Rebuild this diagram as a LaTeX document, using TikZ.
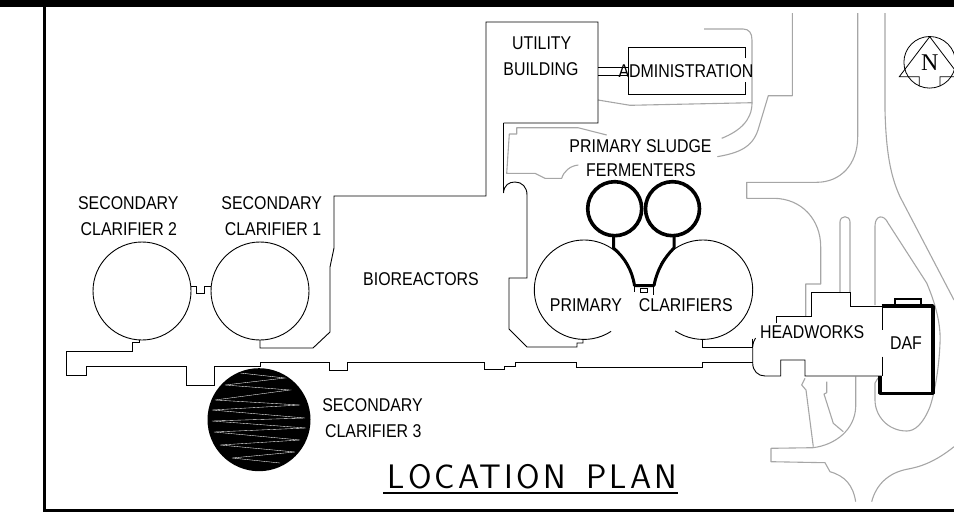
\documentclass[tikz,border=0pt]{standalone}
\usepackage{fontspec}
\setmainfont{Liberation Sans}[FakeStretch=0.86]
\newfontfamily\serifN{Liberation Serif}
\newfontfamily\planfont[LetterSpace=9]{Latin Modern Sans}
\tikzset{
  plan/.style={line width=0.9pt,black,line join=miter},
  medium/.style={line width=1.4pt,black},
  heavy/.style={line width=3.6pt,black,line join=round},
  road/.style={line width=1.1pt,color=black!35,line join=round},
  lbl/.style={font=\fontsize{18.5}{20}\selectfont,inner sep=0pt,anchor=center},
}
\begin{document}
\begin{tikzpicture}[x=1pt,y=-1pt]
\useasboundingbox (0,0) rectangle (954,517);
% frame
\fill[black] (0,0) rectangle (954,7);
\draw[line width=2.8pt] (44.5,6) -- (44.5,510.5) -- (954,510.5);
% roads
\draw[road] (704,29) -- (743,29) .. controls (749,29) and (752,33) .. (752,40) -- (752,103) .. controls (752,120) and (740,131) .. (721.7,138.3);
\draw[road] (598,100) -- (630,105.3) -- (752.3,102.7);
\draw[road] (792.3,13) -- (792.3,95.7) -- (768.3,95.7) -- (758,130) .. controls (752,148) and (738,153) .. (717.3,156.7);
\draw[road] (606.7,135) -- (578,127.7) -- (516.7,127.7) -- (516.7,134) -- (509.3,134) -- (506.7,173.3) -- (535,173.3) -- (545,178.3) -- (561.7,178.3) .. controls (564,171) and (570,166) .. (578.3,165);
\draw[road] (857.7,13) -- (857.7,136.7) .. controls (857.7,165) and (840,182.3) .. (816.7,182.3) -- (746.7,182.3) -- (746.7,198.3) -- (773.3,198.3) .. controls (802,198.3) and (820.7,220) .. (820.7,246.7) -- (820.7,284) -- (805.7,284) -- (805.7,316.7);
\draw[road] (840,292) -- (840,222) .. controls (840,215) and (850,215) .. (850,222) -- (850,292);
\draw[road] (885,13) -- (885,110) .. controls (886,150) and (890,175) .. (900,196.7) -- (954,300);
\draw[road] (875,305) -- (875,226) .. controls (875,215) and (884,214) .. (888,223) -- (926.7,283) .. controls (936,305) and (941,325) .. (940,343) .. controls (939,370) and (934,395) .. (930,406.7) .. controls (923,424) and (915,431) .. (906.7,431) .. controls (888,431) and (875,416) .. (875,400) -- (875,383) -- (878,378);
\draw[road] (954,446.7) .. controls (935,462) and (920,467) .. (906.7,469.3) .. controls (888,473) and (876,485) .. (871.7,501.7);
\draw[road] (855.7,376.7) -- (855.7,406.7) .. controls (855,430) and (835,445) .. (813,447.7) -- (771,448.3) -- (771,461.7) -- (825,462.7) -- (830,471.7) .. controls (845,476) and (853,485) .. (855.7,501.7);
\draw[road] (805,378.3) -- (801.7,385) -- (806,390) -- (813.3,446.7);
\draw[road] (826.7,381.7) -- (826.7,392.7) -- (824,394) -- (833.3,423.3) -- (843.3,431.7);
% utility + bioreactors outline
\draw[plan] (260,340) -- (260,348) -- (313,348) -- (330,332) -- (330,267) -- (334,248) -- (334,196) -- (486,196) -- (486,22) -- (598,22) -- (598,123) -- (503.5,123);
\draw[medium] (503.5,122.5) -- (503.5,193);
\draw[plan] (503.5,193) .. controls (504,185) and (509,182) .. (515,182) .. controls (522,182) and (527,187) .. (527,195) -- (527,278) -- (509,278) -- (509,329) -- (527,347) -- (577,347) -- (577,343) -- (583,343) -- (583,339);
% administration
\draw[plan] (745,58) -- (745,47.7) -- (628.7,47.7) -- (628.7,94) -- (745,94) -- (745,82);
\draw[plan] (598,67.7) -- (628.7,67.7) (598,75) -- (628.7,75);
% secondary clarifiers
\coordinate (sc2) at (142,291);
\coordinate (sc1) at (260,291);
\draw[plan] (sc2) circle[radius=49];
\draw[plan] (sc1) circle[radius=49];
\draw[plan] (191,286.7) -- (196.7,286.7) -- (196.7,293.3) -- (204,293.3) -- (204,286.7) -- (211,286.7);
% lower channel
\draw[plan] (139,340) -- (139,342) -- (132,342) -- (132,351) -- (66.7,351) -- (66.7,375) -- (86.7,375) -- (86.7,366.7) -- (186.7,366.7) -- (186.7,385.7) -- (214.3,385.7) -- (214.3,366.7) -- (260,366.7) -- (260,362.7) -- (329,362.7) -- (329,370) -- (347.3,370) -- (347.3,362.7) -- (484.7,362.7) -- (484.7,369.3) -- (504,369.3) -- (504,366) -- (515,366) -- (515,362.7) -- (576.7,362.7) -- (576.7,367) -- (702.3,367) -- (702.3,362.3) -- (752.7,362.3);
% secondary clarifier 3
\fill[black] (259,419.7) circle[radius=51.5];
\begin{scope}
\clip (259,419.7) circle[radius=50];
\draw[white,line width=0.35pt] (240,373) -- (285,378) -- (225,385) -- (290,390) -- (215,400) -- (300,405) -- (212,410) -- (305,418) -- (212,421) -- (306,428) -- (214,432) -- (300,440) -- (220,445) -- (295,452) -- (232,458) -- (280,463);
\end{scope}
% primary clarifiers
\coordinate (pc1) at (584,289.7);
\coordinate (pc2) at (703,289.7);
\draw[plan] (pc1) ++(57:49.7) arc[start angle=57,end angle=330,radius=49.7];
\draw[plan] (pc2) ++(124:49.7) arc[start angle=124,end angle=-149,radius=49.7];
% fermenters and funnel
\coordinate (f1) at (614.7,208.7);
\coordinate (f2) at (672.5,208.7);
\draw[heavy] (f1) circle[radius=27];
\draw[heavy] (f2) circle[radius=27];
\draw[line width=3pt,black,line join=round] (613.5,236) -- (613.5,248) .. controls (625,258) and (632,270) .. (634.5,285.5) -- (654,285.5) .. controls (657,270) and (664,258) .. (674,248) -- (674,236);
\draw[plan] (634.5,285) -- (634.5,292) (653,285) -- (653,295);
\draw[plan] (640.7,288) rectangle (647.5,292.5);
% headworks
\draw[plan] (702.3,339) -- (702.3,347.7) (752.7,338.5) .. controls (752.7,341) and (752.7,345) .. (752.7,347.7);
\draw[medium] (702.3,347.7) -- (752.7,347.7);
\draw[plan] (752.7,347.7) -- (752.7,363) .. controls (752.7,371) and (758,376) .. (765,376) -- (780.7,376) -- (780.7,360) -- (805,360) -- (805,376) -- (881.7,376);
\draw[plan] (752.7,347) .. controls (753,343) and (754,340) .. (755.5,338);
\draw[plan] (776.7,323) -- (776.7,316.7) -- (811.7,316.7);
\draw[medium] (811.7,316.7) -- (811.7,292.3);
\draw[plan] (811.7,292.3) -- (850.7,292.3) -- (850.7,306) -- (881.7,306);
% DAF
\draw[heavy] (881.7,306) -- (933,306) -- (933,393.3) -- (880,393.3) -- (880,376);
\draw[line width=2pt,black] (895,306) -- (895,299) -- (921,299) -- (921,306);
\draw[plan] (882,306) -- (882,330) (882,356.7) -- (882,376);
% north arrow
\coordinate (nc) at (929.7,62.3);
\draw[plan,line width=0.8pt] (nc) circle[radius=25.8];
\draw[plan,line width=0.8pt] (919.3,86) -- (919.3,76.7) -- (899.3,76.7) -- (929.7,36.7) -- (960,76.7) -- (940,76.7) -- (940,86);
% labels
\node[lbl] (utility) at (541.7,43.7) {UTILITY};
\node[lbl] (building) at (541,69.5) {BUILDING};
\node[lbl] (admin) at (686,70.7) {ADMINISTRATION};
\node[lbl] (psludge) at (640.5,145.8) {PRIMARY SLUDGE};
\node[lbl] (ferm) at (641,170.5) {FERMENTERS};
\node[lbl] (sec2a) at (128.3,203.3) {SECONDARY};
\node[lbl] (sec2b) at (128.9,229) {CLARIFIER 2};
\node[lbl] (sec1a) at (271.7,203.3) {SECONDARY};
\node[lbl] (sec1b) at (273,229) {CLARIFIER 1};
\node[lbl] (bio) at (421,279) {BIOREACTORS};
\node[lbl] (sec3a) at (372.5,405) {SECONDARY};
\node[lbl] (sec3b) at (373.3,431) {CLARIFIER 3};
\node[lbl] (prim) at (586,305) {PRIMARY};
\node[lbl] (clar) at (685.8,305) {CLARIFIERS};
\node[lbl] (head) at (812.2,332.5) {HEADWORKS};
\node[lbl] (daf) at (906,343) {DAF};
\node[inner sep=0pt,font=\serifN\fontsize{24}{24}\selectfont] (north) at (929.7,62.5) {N};
\node[inner sep=0pt,font=\planfont\fontsize{34}{36}\selectfont] (title) at (532.5,477) {LOCATION\hspace{7pt} PLAN};
\draw[line width=1.1pt] (383,493) -- (678,493);
\end{tikzpicture}
\end{document}
